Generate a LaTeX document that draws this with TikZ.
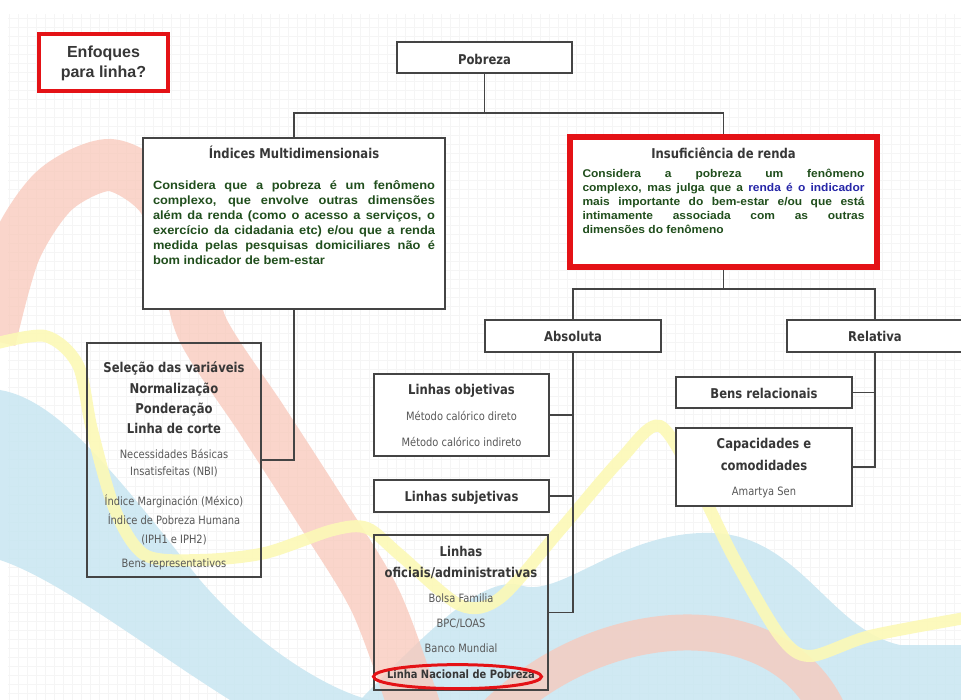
\documentclass[tikz,border=0pt]{standalone}
\usepackage{fontspec}
\setmainfont{Liberation Sans}
\newfontfamily\condfont[FakeStretch=0.86]{DejaVu Sans}
\newfontfamily\bodyfont[FakeStretch=1.07]{Liberation Sans}
\usetikzlibrary{arrows.meta}

\definecolor{boxgray}{RGB}{68,68,68}
\definecolor{alertred}{RGB}{228,18,22}
\definecolor{titlegray}{RGB}{55,55,55}
\definecolor{itemgray}{RGB}{88,88,88}
\definecolor{bodygreen}{RGB}{32,78,28}
\definecolor{textblue}{RGB}{38,38,168}
\definecolor{skyband}{RGB}{200,230,241}
\definecolor{salmonband}{RGB}{249,200,186}
\definecolor{sunband}{RGB}{252,249,182}

% box contents: width, height, first baseline, lines
\newcommand\bx[4]{\parbox[c][#2][t]{#1}{\lineskiplimit=-100pt\lineskip=0pt\centering\rule{0pt}{#3}#4}}
\newcommand\ttl{\condfont\bfseries\fontsize{13.5}{0}\selectfont\color{titlegray}}
\newcommand\itm{\condfont\mdseries\fontsize{11.5}{0}\selectfont\color{itemgray}}
\newcommand\bdy[1]{\bodyfont\bfseries\fontsize{#1}{0}\selectfont\color{bodygreen}}
\newcommand\jl[2][s]{\makebox[282pt][#1]{#2}}

\tikzset{
  box/.style={draw=boxgray, line width=1.3pt, fill=white, inner sep=0pt},
  openbox/.style={draw=boxgray, line width=1.3pt, inner sep=0pt},
  redbox/.style={draw=alertred, line width=#1, fill=white, inner sep=0pt},
  link/.style={draw=boxgray, line width=1.3pt},
}

\begin{document}
\begin{tikzpicture}[x=1pt,y=-1pt]
  \fill[white] (0,0) rectangle (961,700);
  \useasboundingbox (0,0) rectangle (961,700);
  \draw[gray!8, line width=0.35pt, step=9pt] (8,14) grid (961,700);
  % ribbons in the background
  \fill[skyband, opacity=0.85] (0,390) .. controls (60,400) and (120,480) .. (200,580)
     .. controls (260,650) and (330,690) .. (370,700) -- (230,700)
     .. controls (150,650) and (60,580) .. (0,560) -- cycle;
  \fill[skyband, opacity=0.85] (360,700) .. controls (420,640) and (480,575) .. (520,585)
     .. controls (560,600) and (620,530) .. (713,533)
     .. controls (800,536) and (830,630) .. (900,645) -- (961,645) -- (961,700) -- cycle;
  \draw[salmonband, opacity=0.75, line width=52pt] plot[smooth] coordinates
     {(-10,340) (15,250) (55,190) (110,165) (160,195) (185,260) (203,330) (262,420) (320,510) (375,600) (412,700) (420,730)};
  \draw[salmonband, opacity=0.75, line width=36pt] (495,715) .. controls (600,610) and (780,600) .. (830,715);
  \draw[sunband, opacity=0.9, line width=12pt] plot[smooth] coordinates
     {(-10,345) (45,336) (78,365) (92,430) (115,510) (145,555) (200,560) (265,553) (333,530) (367,528)
      (400,555) (460,605) (500,598) (560,530) (620,460) (660,426) (700,490) (735,560) (780,636) (810,656) (870,636) (965,618)};

  \node[redbox=4pt] (enfoques) at (103.5,62.5)
    {\bx{129pt}{57pt}{24pt}{\bfseries\fontsize{16}{0}\selectfont\color{titlegray}Enfoques\\[19.5pt]para linha?}};
  \node[box] (pobreza) at (484.5,57.5) {\bx{175pt}{31pt}{23pt}{\ttl Pobreza}};
  \node[box] (indices) at (294,223.5) {\bx{302pt}{171pt}{20.5pt}{\ttl Índices Multidimensionais\\[31pt]
    \bdy{12}\jl{Considera que a pobreza é um fenômeno}\\[15pt]
    \jl{complexo, que envolve outras dimensões}\\[15pt]
    \jl{além da renda (como o acesso a serviços, o}\\[15pt]
    \jl{exercício da cidadania etc) e/ou que a renda}\\[15pt]
    \jl{medida pelas pesquisas domiciliares não é}\\[15pt]
    \jl[l]{bom indicador de bem-estar}}};
  \node[redbox=5.5pt] (insuf) at (723.5,202) {\bx{307pt}{130pt}{21.3pt}{\ttl Insuficiência de renda\\[19pt]
    \bdy{11.2}\jl{Considera a pobreza um fenômeno}\\[14pt]
    \jl{complexo, mas julga que a {\color{textblue}renda é o indicador}}\\[14pt]
    \jl{mais importante do bem-estar e/ou que está}\\[14pt]
    \jl{intimamente associada com as outras}\\[14pt]
    \jl[l]{dimensões do fenômeno}}};

  \node[openbox] (selecao) at (174,460) {\bx{174pt}{234pt}{29pt}{\ttl Seleção das variáveis\\[21pt]
    Normalização\\[20pt]Ponderação\\[20pt]Linha de corte\\[25pt]
    \itm Necessidades Básicas\\[17.5pt]Insatisfeitas (NBI)\\[29.5pt]Índice Marginación (México)\\[19pt]
    Índice de Pobreza Humana\\[19pt](IPH1 e IPH2)\\[24.7pt]Bens representativos}};

  \node[box] (absoluta) at (573,336) {\bx{176pt}{32pt}{22pt}{\ttl Absoluta}};
  \node[box] (relativa) at (875,336) {\bx{176pt}{32pt}{21.5pt}{\ttl Relativa}};
  \node[box] (objetivas) at (461.5,415) {\bx{175pt}{82pt}{20.5pt}{\ttl Linhas objetivas\\[25.5pt]
    \itm Método calórico direto\\[26pt]Método calórico indireto}};
  \node[box] (subjetivas) at (461.5,496) {\bx{175pt}{32pt}{21.7pt}{\ttl Linhas subjetivas}};
  \node[openbox] (oficiais) at (461,612.5) {\bx{174pt}{155pt}{21.7pt}{\ttl Linhas\\[20.6pt]oficiais/administrativas\\[25.4pt]
    \itm Bolsa Familia\\[25pt]BPC/LOAS\\[25pt]Banco Mundial\\[26pt]
    {\condfont\bfseries\color{titlegray}Linha Nacional de Pobreza}}};
  \node[box] (bensrel) at (764,392.5) {\bx{176pt}{31pt}{21.3pt}{\ttl Bens relacionais}};
  \node[box] (capac) at (764,467) {\bx{176pt}{78pt}{20.3pt}{\ttl Capacidades e\\[21.7pt]comodidades\\[25pt]
    \itm Amartya Sen}};
  \draw[alertred, line width=3pt] (oficiais.south) ++(-3.5,-14) ellipse [x radius=84, y radius=12];

  % tree connectors
  \coordinate (busA) at (485,113);
  \coordinate (busB) at (724,289);
  \draw[link] (pobreza.south) -- (pobreza.south |- busA);
  \draw[link] (indices.north) -- (indices.north |- busA) -| (insuf.north);
  \draw[link] (insuf.south) -- (insuf.south |- busB);
  \draw[link] (absoluta.north) -- (absoluta.north |- busB) -| (relativa.north);
  \draw[link] (indices.south) |- (selecao.east);
  \draw[link] (absoluta.south) |- (oficiais.east);
  \draw[link] (objetivas.east) -- (objetivas.east -| absoluta.south);
  \draw[link] (subjetivas.east) -- (subjetivas.east -| absoluta.south);
  \draw[link] (relativa.south) |- (capac.east);
  \draw[link] (bensrel.east) -- (bensrel.east -| relativa.south);
\end{tikzpicture}
\end{document}
